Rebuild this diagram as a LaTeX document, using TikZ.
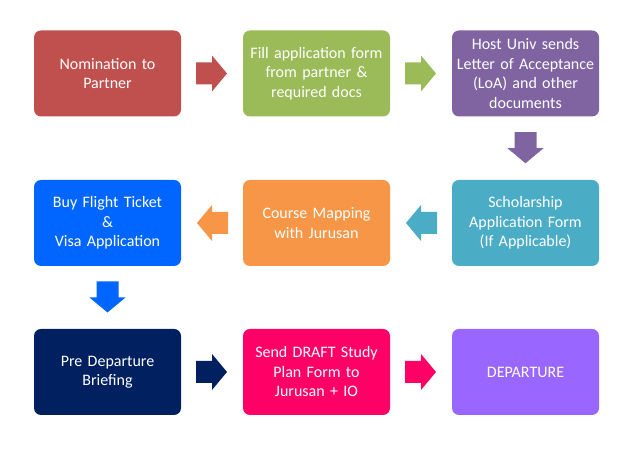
\documentclass[tikz,border=0pt]{standalone}
\usepackage{fontspec}
\setmainfont{Carlito}
\usetikzlibrary{calc}
\definecolor{cRed}{HTML}{C0504D}
\definecolor{cGreen}{HTML}{9BBB59}
\definecolor{cPurple}{HTML}{8064A2}
\definecolor{cTeal}{HTML}{4BACC6}
\definecolor{cOrange}{HTML}{F79646}
\definecolor{cBlue}{HTML}{0066FF}
\definecolor{cNavy}{HTML}{002060}
\definecolor{cPink}{HTML}{FF0066}
\definecolor{cLilac}{HTML}{9966FF}
\newcommand\blockarrow[4]{%
  \fill[#4, shift={($(#1)!0.5!(#2)$)}, rotate=#3]
    (-16,-11) -- (0,-11) -- (0,-18) -- (15,0) -- (0,18) -- (0,11) -- (-16,11) -- cycle;}
\begin{document}
\begin{tikzpicture}[x=1pt,y=1pt,
  stepbox/.style={rounded corners=7pt, minimum width=147pt, minimum height=86pt,
    text width=140pt, align=center, text=white, inner sep=0pt,
    font=\fontsize{16}{19.5}\selectfont}]
\useasboundingbox (0,0) rectangle (640,454);
\fill[white] (0,0) rectangle (640,454);
% row 1
\node[stepbox, fill=cRed] (n1) at (107.5,380.5) {Nomination to\\Partner};
\node[stepbox, fill=cGreen] (n2) at (316.5,380.5) {Fill application form\\from partner \&\\required docs};
\node[stepbox, fill=cPurple] (n3) at (525.5,380.5) {Host Univ sends\\Letter of Acceptance\\(LoA) and other\\documents};
% row 2
\node[stepbox, fill=cTeal] (n4) at (525.5,231) {Scholarship\\Application Form\\(If Applicable)};
\node[stepbox, fill=cOrange] (n5) at (316.5,231) {Course Mapping\\with Jurusan};
\node[stepbox, fill=cBlue] (n6) at (107.5,231) {Buy Flight Ticket\\\&\\Visa Application};
% row 3
\node[stepbox, fill=cNavy] (n7) at (107.5,82) {Pre Departure\\Briefing};
\node[stepbox, fill=cPink] (n8) at (316.5,82) {Send DRAFT Study\\Plan Form to\\Jurusan + IO};
\node[stepbox, fill=cLilac] (n9) at (525.5,82) {DEPARTURE};
% arrows
\blockarrow{n1.east}{n2.west}{0}{cRed}
\blockarrow{n2.east}{n3.west}{0}{cGreen}
\blockarrow{n3.south}{n4.north}{-90}{cPurple}
\blockarrow{n4.west}{n5.east}{180}{cTeal}
\blockarrow{n5.west}{n6.east}{180}{cOrange}
\blockarrow{n6.south}{n7.north}{-90}{cBlue}
\blockarrow{n7.east}{n8.west}{0}{cNavy}
\blockarrow{n8.east}{n9.west}{0}{cPink}
\end{tikzpicture}
\end{document}
